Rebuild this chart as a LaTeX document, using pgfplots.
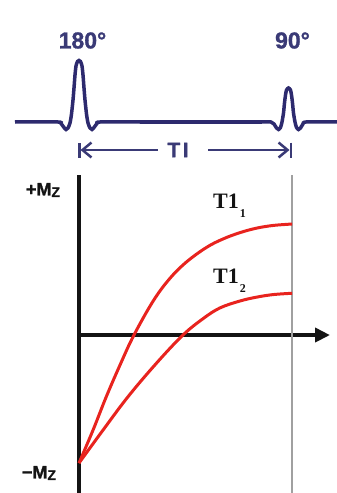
\documentclass[border=0pt]{standalone}
\usepackage{pgfplots}
\pgfplotsset{compat=1.18}
\usepackage{fontspec}
\setmainfont{Liberation Sans}
\newfontfamily\sansbold[FakeBold=1.2]{Liberation Sans Bold}
\newfontfamily\serifbold{Liberation Serif Bold}
\usetikzlibrary{arrows.meta}

\definecolor{pulseblue}{RGB}{45,42,110}
\definecolor{labelblue}{RGB}{58,58,118}
\definecolor{curvered}{RGB}{232,35,30}
\definecolor{limitgray}{RGB}{160,160,160}
\definecolor{axisblack}{RGB}{20,20,20}

\begin{document}
\begin{tikzpicture}
\path[use as bounding box] (0,0) rectangle (337bp,493bp);

% Magnetisation recovery after the inversion pulse
\begin{axis}[
  at={(79bp,0bp)}, anchor=south west,
  scale only axis, width=251bp, height=318bp,
  xmin=0, xmax=1.178, ymin=-1.234, ymax=1.25,
  axis lines=middle,
  axis line style={axisblack, line width=4.5bp},
  x axis line style={-{Triangle[length=15bp,width=14bp]}},
  y axis line style={-},
  xtick=\empty, ytick=\empty,
  clip=false,
]
\addplot[limitgray, line width=2bp] coordinates {(1,-1.234) (1,1.25)};
% T1_1 (short T1)
\addplot[curvered, line width=3bp, smooth, tension=0.6] coordinates {
  (0,-1.0) (0.066,-0.742) (0.128,-0.482) (0.196,-0.221) (0.258,0)
  (0.349,0.268) (0.427,0.443) (0.506,0.573) (0.600,0.686) (0.677,0.751)
  (0.756,0.800) (0.834,0.835) (0.912,0.856) (1,0.867)};
% T1_2 (long T1)
\addplot[curvered, line width=3bp, smooth, tension=0.6] coordinates {
  (0,-1.0) (0.113,-0.742) (0.230,-0.482) (0.363,-0.221) (0.488,0)
  (0.584,0.130) (0.662,0.212) (0.756,0.266) (0.834,0.296) (0.912,0.316)
  (1,0.326)};
\end{axis}

% Pulse sequence, drawn in pixel-like units (y downward)
\begin{axis}[
  at={(0bp,0bp)}, anchor=south west,
  scale only axis, width=337bp, height=493bp,
  xmin=0, xmax=337, ymin=0, ymax=493, y dir=reverse,
  hide axis, clip=false,
]
\addplot[pulseblue, line width=3.5bp, smooth, tension=0.4] coordinates {
  (15,122) (58,122) (61,123.5) (64,127.5) (66,129.5) (68,128) (70,123)
  (71.5,114) (73,100) (74,88) (75,75) (76,66) (77.5,61.5) (79,60.5)
  (80.5,61.5) (82,66) (83,75) (84,88) (85,100) (86.5,114) (88,123)
  (90,128) (92,129.5) (94,127.5) (97,123.5) (100,122) (140,122)};
\addplot[pulseblue, line width=3.5bp] coordinates {(140,122) (262,122)};
\addplot[pulseblue, line width=3.5bp, smooth, tension=0.4] coordinates {
  (262,122) (271,122) (274,124) (276.5,128) (278.5,129.5) (280.5,127.5)
  (282,122) (283.5,113) (284.5,103) (285.5,95) (286.5,90) (288.5,88)
  (290.5,90) (291.5,95) (292.5,103) (293.5,113) (295,122) (296.5,127.5)
  (298.5,129.5) (300.5,128) (303,124) (306,122) (337,122)};

% TI interval
\draw[labelblue, line width=2.5bp,
  {Bar[width=15bp].Straight Barb[length=9bp,width=15bp]}-] (78,150) -- (158,150);
\draw[labelblue, line width=2.5bp,
  -{Straight Barb[length=9bp,width=15bp].Bar[width=15bp]}] (208,150) -- (292,150);
\node[labelblue, font=\sansbold\fontsize{21bp}{24bp}\selectfont] at (178,150) {T\kern2.5bp I};

\node[labelblue, font=\sansbold\fontsize{23bp}{26bp}\selectfont] at (82.5,40.5) {180°};
\node[labelblue, font=\sansbold\fontsize{23bp}{26bp}\selectfont] at (292.5,40.5) {90°};

% axis labels
\node[axisblack, font=\sansbold\fontsize{18bp}{20bp}\selectfont] at (43,190)
  {+M\raisebox{-1.5bp}{\fontsize{14bp}{16bp}\selectfont Z}};
\node[axisblack, font=\sansbold\fontsize{18bp}{20bp}\selectfont] at (39,473)
  {\textminus M\raisebox{-1.5bp}{\fontsize{14bp}{16bp}\selectfont Z}};

% curve labels
\node[axisblack, font=\serifbold\fontsize{22bp}{25bp}\selectfont, anchor=base west, inner sep=0pt] at (213,208)
  {T1\kern1bp\raisebox{-9bp}{\fontsize{12bp}{14bp}\selectfont 1}};
\node[axisblack, font=\serifbold\fontsize{22bp}{25bp}\selectfont, anchor=base west, inner sep=0pt] at (213,283)
  {T1\kern1bp\raisebox{-9bp}{\fontsize{12bp}{14bp}\selectfont 2}};
\end{axis}
\end{tikzpicture}
\end{document}
